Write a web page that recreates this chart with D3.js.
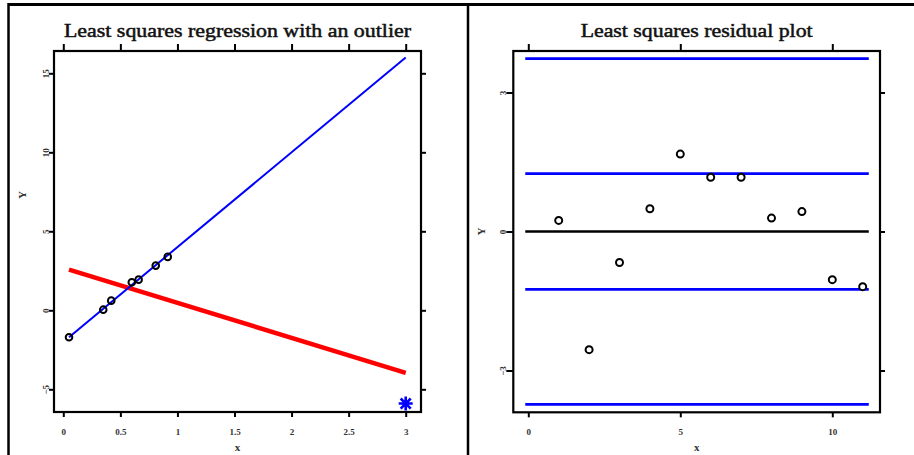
<!DOCTYPE html>
<html>
<head>
<meta charset="utf-8">
<script src="https://cdn.jsdelivr.net/npm/d3@7"></script>
<style>
  html, body { margin: 0; padding: 0; background: #fff; }
  svg { display: block; }
  .tl { font-family: "Liberation Serif", serif; font-size: 9px; fill: #333; font-weight: bold; }
  .ttl { font-family: "Liberation Serif", serif; font-size: 19px; fill: #111; stroke: #111; stroke-width: 0.5; }
</style>
</head>
<body>
<svg id="chart" width="914" height="455"></svg>
<script>
// left panel: data points, fits, outlier
const ptsX = [0.05, 0.35, 0.42, 0.60, 0.66, 0.81, 0.915];
const ptsY = [-1.71, 0.04, 0.61, 1.77, 1.94, 2.83, 3.38];
const outlierPt = [3, -5.9];
const fitClean = { x: [0.05, 3], y: [-1.7, 16.0] };   // blue, without outlier
const fitOutlier = { x: [0.05, 3], y: [2.58, -3.96] }; // red, with outlier
const leftXTicks = [0, 0.5, 1, 1.5, 2, 2.5, 3];
const leftYTicks = [-5, 0, 5, 10, 15];

// right panel: residuals
const resX = [1, 2, 3, 4, 5, 6, 7, 8, 9, 10, 11];
const resY = [0.24, -2.55, -0.67, 0.49, 1.67, 1.17, 1.17, 0.29, 0.43, -1.04, -1.19];
const bandLevels = [-3.73, -1.25, 1.25, 3.73];
const bandSpan = [-0.1, 11.2];
const rightXTicks = [0, 5, 10];
const rightYTicks = [-3, 0, 3];

const svg = d3.select("#chart");
const fmt = d3.format("~g");

// outer frame
svg.append("line").attr("x1", 8).attr("x2", 914).attr("y1", 4.5).attr("y2", 4.5)
  .attr("stroke", "#000").attr("stroke-width", 3);
svg.append("line").attr("x1", 8.5).attr("x2", 8.5).attr("y1", 3).attr("y2", 455)
  .attr("stroke", "#000").attr("stroke-width", 2.5);
svg.append("line").attr("x1", 468).attr("x2", 468).attr("y1", 3).attr("y2", 455)
  .attr("stroke", "#000").attr("stroke-width", 2.5);

function panel(opt) {
  const g = svg.append("g");
  const { box, x, y } = opt;

  const styleAxis = sel => {
    sel.select(".domain").remove();
    sel.selectAll(".tick line").attr("stroke", "#000").attr("stroke-width", 2);
    sel.selectAll("text").attr("class", "tl").attr("fill", null).style("fill", "#333");
  };

  // bottom
  g.append("g").attr("transform", `translate(0,${box.b})`)
    .call(d3.axisBottom(x).tickValues(opt.xTicks).tickSize(5).tickFormat(fmt))
    .call(styleAxis)
    .call(s => s.selectAll("text").attr("y", 23).attr("dy", 0));
  // top
  g.append("g").attr("transform", `translate(0,${box.t})`)
    .call(d3.axisTop(x).tickValues(opt.xTicks).tickSize(7).tickFormat(""))
    .call(styleAxis);
  // left
  g.append("g").attr("transform", `translate(${box.l},0)`)
    .call(d3.axisLeft(y).tickValues(opt.yTicks).tickSize(opt.ltick).tickFormat(fmt))
    .call(styleAxis)
    .call(s => s.selectAll("text")
      .attr("transform", "rotate(-90)").attr("text-anchor", "middle")
      .attr("x", 0).attr("dy", 0).attr("y", -opt.ltick));
  // right
  g.append("g").attr("transform", `translate(${box.r},0)`)
    .call(d3.axisRight(y).tickValues(opt.yTicks).tickSize(5).tickFormat(""))
    .call(styleAxis);

  g.append("rect").attr("x", box.l).attr("y", box.t)
    .attr("width", box.r - box.l).attr("height", box.b - box.t)
    .attr("fill", "none").attr("stroke", "#000").attr("stroke-width", 2.2);

  const cx = (box.l + box.r) / 2;
  g.append("text").attr("class", "ttl").attr("x", cx).attr("y", 37)
    .attr("text-anchor", "middle")
    .attr("textLength", opt.titleW).attr("lengthAdjust", "spacingAndGlyphs")
    .text(opt.title);
  g.append("text").attr("class", "tl").attr("x", cx).attr("y", 451)
    .attr("text-anchor", "middle").style("font-size", "11px").text("x");
  g.append("text").attr("class", "tl").style("font-size", "11px")
    .attr("transform", `translate(${opt.ylabX},${y(opt.yMid)}) rotate(-90)`)
    .attr("text-anchor", "middle").text("Y");
  return g;
}

// ---- left panel
const xL = d3.scaleLinear().domain([0, 3]).range([63.3, 405.7]);
const yL = d3.scaleLinear().domain([-5, 15]).range([389.3, 73.3]);
const gL = panel({
  box: { l: 54, r: 421, t: 51, b: 412 }, x: xL, y: yL,
  xTicks: leftXTicks, yTicks: leftYTicks, ltick: 5, yMid: 7.3, ylabX: 26,
  title: "Least squares regression with an outlier", titleW: 347
});

const line = d3.line().x(d => xL(d[0])).y(d => yL(d[1]));
gL.append("path").datum(d3.zip(fitOutlier.x, fitOutlier.y)).attr("d", line)
  .attr("fill", "none").attr("stroke", "#ff0000").attr("stroke-width", 4.5);
gL.append("path").datum(d3.zip(fitClean.x, fitClean.y)).attr("d", line)
  .attr("fill", "none").attr("stroke", "#0000ff").attr("stroke-width", 2);
gL.append("g").selectAll("circle").data(d3.zip(ptsX, ptsY)).join("circle")
  .attr("cx", d => xL(d[0])).attr("cy", d => yL(d[1])).attr("r", 3.3)
  .attr("fill", "none").attr("stroke", "#000").attr("stroke-width", 2);

// outlier asterisk
const [ox, oy] = [xL(outlierPt[0]), yL(outlierPt[1])];
const ar = 7, ad = ar * 0.72;
gL.append("path")
  .attr("d", `M${ox - ar},${oy}H${ox + ar}M${ox},${oy - ar}V${oy + ar}` +
    `M${ox - ad},${oy - ad}L${ox + ad},${oy + ad}M${ox - ad},${oy + ad}L${ox + ad},${oy - ad}`)
  .attr("stroke", "#0000ff").attr("stroke-width", 2.6).attr("fill", "none");

// ---- right panel
const xR = d3.scaleLinear().domain([0, 10]).range([528.3, 832.3]);
const yR = d3.scaleLinear().domain([-3, 3]).range([370.5, 92.5]);
const gR = panel({
  box: { l: 513.3, r: 880, t: 51, b: 412.3 }, x: xR, y: yR,
  xTicks: rightXTicks, yTicks: rightYTicks, ltick: 7, yMid: 0, ylabX: 485,
  title: "Least squares residual plot", titleW: 232
});

gR.append("g").selectAll("line").data(bandLevels).join("line")
  .attr("x1", xR(bandSpan[0])).attr("x2", xR(bandSpan[1]))
  .attr("y1", d => yR(d)).attr("y2", d => yR(d))
  .attr("stroke", "#0000ff").attr("stroke-width", 2.7);
gR.append("line")
  .attr("x1", xR(bandSpan[0])).attr("x2", xR(bandSpan[1]))
  .attr("y1", yR(0)).attr("y2", yR(0))
  .attr("stroke", "#000").attr("stroke-width", 2.7);
gR.append("g").selectAll("circle").data(d3.zip(resX, resY)).join("circle")
  .attr("cx", d => xR(d[0])).attr("cy", d => yR(d[1])).attr("r", 3.5)
  .attr("fill", "#fff").attr("stroke", "#000").attr("stroke-width", 2);
</script>
</body>
</html>
